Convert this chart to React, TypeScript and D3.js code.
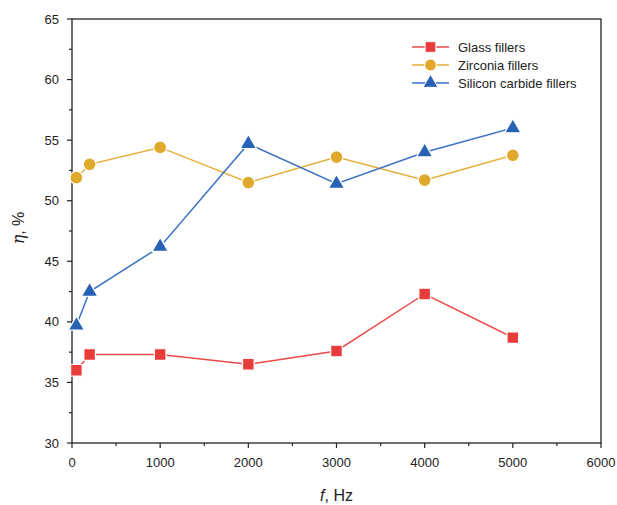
import React, { useEffect, useRef } from 'react';
import * as d3 from 'd3';

const freqs = [50, 200, 1000, 2000, 3000, 4000, 5000];
const glass = [36.0, 37.3, 37.3, 36.5, 37.6, 42.3, 38.7];
const zirconia = [51.9, 53.0, 54.4, 51.5, 53.6, 51.7, 53.75];
const siliconCarbide = [39.7, 42.5, 46.2, 54.7, 51.4, 54.0, 56.0];
const seriesNames = ['Glass fillers', 'Zirconia fillers', 'Silicon carbide fillers'];
const xTicks = [0, 1000, 2000, 3000, 4000, 5000, 6000];
const yTicks = [30, 35, 40, 45, 50, 55, 60, 65];

const App = () => {
  const ref = useRef<SVGSVGElement>(null);

  useEffect(() => {
    const width = 617;
    const height = 505;
    const margin = { top: 19, left: 72, bottom: 62, right: 16 };

    const svg = d3.select(ref.current);
    svg.selectAll('*').remove();
    svg.attr('width', width).attr('height', height);

    const x = d3.scaleLinear().domain([0, 6000]).range([margin.left, width - margin.right]);
    const y = d3.scaleLinear().domain([30, 65]).range([height - margin.bottom, margin.top]);

    const font = 'Liberation Sans, Arial, sans-serif';
    const axisColor = '#222';

    // frame
    svg.append('rect')
      .attr('x', x(0)).attr('y', y(65))
      .attr('width', x(6000) - x(0)).attr('height', y(30) - y(65))
      .attr('fill', 'none').attr('stroke', axisColor).attr('stroke-width', 1.3);

    // x ticks
    const xMinor = d3.range(500, 6000, 1000);
    const gx = svg.append('g');
    gx.selectAll('line.major').data(xTicks).enter().append('line')
      .attr('x1', d => x(d)).attr('x2', d => x(d))
      .attr('y1', y(30)).attr('y2', y(30) + 5)
      .attr('stroke', axisColor).attr('stroke-width', 1.2);
    gx.selectAll('line.minor').data(xMinor).enter().append('line')
      .attr('x1', d => x(d)).attr('x2', d => x(d))
      .attr('y1', y(30)).attr('y2', y(30) + 3)
      .attr('stroke', axisColor).attr('stroke-width', 1.2);
    gx.selectAll('text').data(xTicks).enter().append('text')
      .attr('x', d => x(d)).attr('y', y(30) + 24)
      .attr('text-anchor', 'middle')
      .attr('font-family', font).attr('font-size', 13).attr('fill', '#222')
      .text(d => d);

    // y ticks
    const yMinor = d3.range(32.5, 65, 5);
    const gy = svg.append('g');
    gy.selectAll('line.major').data(yTicks).enter().append('line')
      .attr('x1', x(0) - 5).attr('x2', x(0))
      .attr('y1', d => y(d)).attr('y2', d => y(d))
      .attr('stroke', axisColor).attr('stroke-width', 1.2);
    gy.selectAll('line.minor').data(yMinor).enter().append('line')
      .attr('x1', x(0) - 3).attr('x2', x(0))
      .attr('y1', d => y(d)).attr('y2', d => y(d))
      .attr('stroke', axisColor).attr('stroke-width', 1.2);
    gy.selectAll('text').data(yTicks).enter().append('text')
      .attr('x', x(0) - 13).attr('y', d => y(d) + 4.5)
      .attr('text-anchor', 'end')
      .attr('font-family', font).attr('font-size', 13).attr('fill', '#222')
      .text(d => d);

    // axis titles
    const xt = svg.append('text')
      .attr('x', (x(0) + x(6000)) / 2).attr('y', 501)
      .attr('text-anchor', 'middle')
      .attr('font-family', font).attr('font-size', 16).attr('fill', '#222');
    xt.append('tspan').attr('font-style', 'italic').text('f');
    xt.append('tspan').text(', Hz');

    const yt = svg.append('text')
      .attr('transform', `translate(24,228) rotate(-90)`)
      .attr('text-anchor', 'middle')
      .attr('font-family', font).attr('font-size', 16).attr('fill', '#222');
    yt.append('tspan').attr('font-style', 'italic').attr('font-family', 'DejaVu Serif, serif').text('η');
    yt.append('tspan').text(', %');

    const series = [
      { name: seriesNames[0], values: glass, line: '#ec4a48', fill: '#e83c3b', symbol: d3.symbolSquare, size: 135 },
      { name: seriesNames[1], values: zirconia, line: '#e6ad36', fill: '#e0a92c', symbol: d3.symbolCircle, size: 130 },
      { name: seriesNames[2], values: siliconCarbide, line: '#3b72c4', fill: '#2762b5', symbol: d3.symbolTriangle, size: 115 },
    ];

    const line = d3.line<number>().x((_, i) => x(freqs[i])).y(d => y(d));

    series.forEach(s => {
      svg.append('path')
        .attr('d', line(s.values))
        .attr('fill', 'none').attr('stroke', s.line).attr('stroke-width', 1.5);
      svg.selectAll(null).data(s.values).enter().append('path')
        .attr('d', d3.symbol().type(s.symbol).size(s.size)())
        .attr('transform', (d, i) => `translate(${x(freqs[i])},${y(d)})`)
        .attr('fill', s.fill).attr('stroke', '#fff').attr('stroke-width', 1.2);
    });

    // legend
    const lg = svg.append('g');
    series.forEach((s, i) => {
      const ly = 47 + i * 18;
      lg.append('line')
        .attr('x1', 412).attr('x2', 449).attr('y1', ly).attr('y2', ly)
        .attr('stroke', s.line).attr('stroke-width', 1.5);
      lg.append('path')
        .attr('d', d3.symbol().type(s.symbol).size(s.size * 0.85)())
        .attr('transform', `translate(430.5,${ly})`)
        .attr('fill', s.fill).attr('stroke', '#fff').attr('stroke-width', 1);
      lg.append('text')
        .attr('x', 458).attr('y', ly + 4.5)
        .attr('font-family', font).attr('font-size', 13).attr('fill', '#222')
        .text(s.name);
    });
  }, []);

  return (
    <div style={{ position: 'absolute', left: 0, top: 0 }}>
      <svg ref={ref}></svg>
    </div>
  );
};

export default App;
